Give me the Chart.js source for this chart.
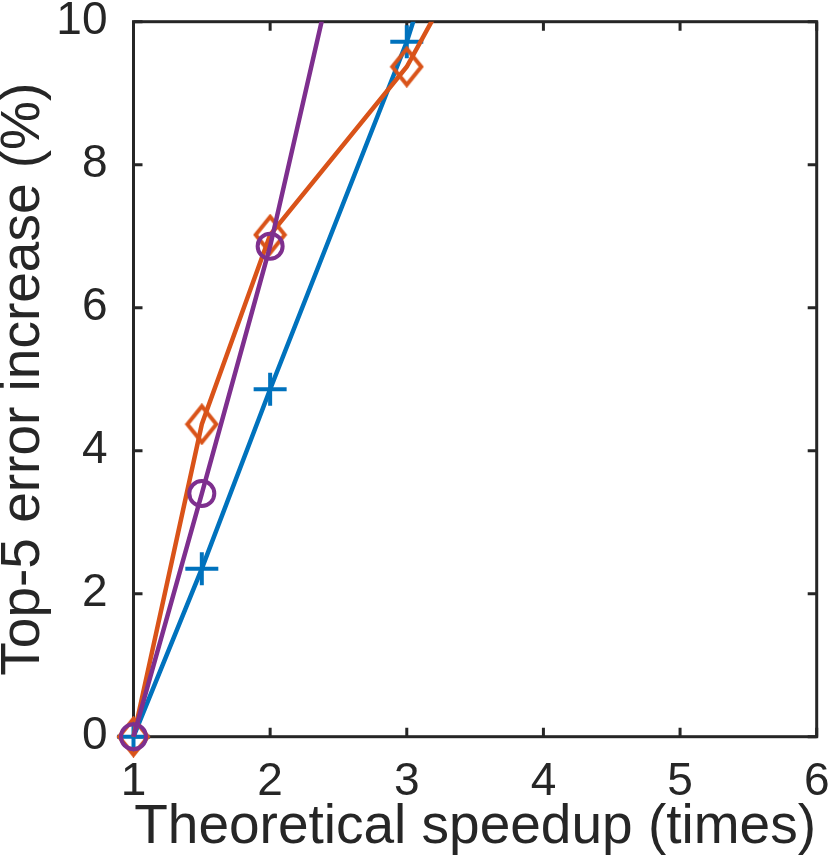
<!DOCTYPE html>
<html>
<head>
<meta charset="utf-8">
<script src="https://cdn.jsdelivr.net/npm/chart.js@4.4.0/dist/chart.umd.min.js"></script>
<style>
  html, body { margin: 0; padding: 0; background: #fff; }
  #wrap { width: 830px; height: 859px; position: relative; }
</style>
</head>
<body>
<div id="wrap"><canvas id="myChart"></canvas></div>
<script>
// speedup (x) and top-5 error increase (y)
const speedBlue = [1, 1.5, 2, 3, 4];
const errBlue = [0, 2.35, 4.86, 9.72, 15.7];

const speedOrange = [1, 1.5, 2, 3, 4];
const errOrange = [0, 4.37, 7.02, 9.37, 12.85];

const speedPurple = [1, 1.5, 2, 3];
const errPurple = [0, 3.40, 6.86, 15.2];

const xTicks = [1, 2, 3, 4, 5, 6];
const yTicks = [0, 2, 4, 6, 8, 10];

const ink = '#262626';

function toPoints(xs, ys) {
    return xs.map((x, i) => ({ x: x, y: ys[i] }));
}

// MATLAB diamonds are a bit taller than wide
function diamondMarker(color) {
    const w = 14.5, h = 18, lw = 4;
    const cv = document.createElement('canvas');
    cv.width = Math.ceil(2 * w + lw + 2);
    cv.height = Math.ceil(2 * h + lw + 2);
    const g = cv.getContext('2d');
    const cx = cv.width / 2, cy = cv.height / 2;
    g.strokeStyle = color;
    g.lineWidth = lw;
    g.lineJoin = 'miter';
    g.beginPath();
    g.moveTo(cx, cy - h);
    g.lineTo(cx + w, cy);
    g.lineTo(cx, cy + h);
    g.lineTo(cx - w, cy);
    g.closePath();
    g.stroke();
    return cv;
}

// MATLAB style box with ticks pointing inwards
const frame = {
    id: 'frame',
    beforeDatasetsDraw(c) {
        const { ctx, chartArea: a, scales } = c;
        const len = 9;
        ctx.save();
        ctx.strokeStyle = ink;
        ctx.lineWidth = 3;
        ctx.beginPath();
        xTicks.forEach(v => {
            const px = scales.x.getPixelForValue(v);
            ctx.moveTo(px, a.bottom); ctx.lineTo(px, a.bottom - len);
            ctx.moveTo(px, a.top); ctx.lineTo(px, a.top + len);
        });
        yTicks.forEach(v => {
            const py = scales.y.getPixelForValue(v);
            ctx.moveTo(a.left, py); ctx.lineTo(a.left + len, py);
            ctx.moveTo(a.right, py); ctx.lineTo(a.right - len, py);
        });
        ctx.stroke();
        ctx.lineJoin = 'miter';
        ctx.strokeRect(a.left, a.top, a.right - a.left, a.bottom - a.top);
        ctx.restore();
    }
};

const clipBox = { left: 30, bottom: 30, top: 0, right: 0 };

const ctx = document.getElementById('myChart').getContext('2d');
new Chart(ctx, {
    type: 'line',
    data: {
        datasets: [
            {
                label: 'blue',
                data: toPoints(speedBlue, errBlue),
                borderColor: '#0072BD',
                borderWidth: 4.5,
                pointStyle: 'cross',
                pointRadius: 16.5,
                pointBorderWidth: 4,
                pointBorderColor: '#0072BD',
                pointBackgroundColor: 'rgba(0,0,0,0)',
                clip: clipBox,
                order: 3
            },
            {
                label: 'orange',
                data: toPoints(speedOrange, errOrange),
                borderColor: '#D95319',
                borderWidth: 4.5,
                pointStyle: diamondMarker('#D95319'),
                pointRadius: 18,
                clip: clipBox,
                order: 2
            },
            {
                label: 'purple',
                data: toPoints(speedPurple, errPurple),
                borderColor: '#7E2F8E',
                borderWidth: 4.5,
                pointStyle: 'circle',
                pointRadius: 12.5,
                pointBorderWidth: 4,
                pointBorderColor: '#7E2F8E',
                pointBackgroundColor: 'rgba(0,0,0,0)',
                clip: clipBox,
                order: 1
            }
        ]
    },
    options: {
        responsive: true,
        maintainAspectRatio: false,
        animation: false,
        devicePixelRatio: 1,
        layout: {
            autoPadding: false,
            padding: { left: 0, top: 21.7, right: 13.3, bottom: 0 }
        },
        plugins: {
            legend: { display: false },
            tooltip: { enabled: false }
        },
        elements: { line: { tension: 0 } },
        scales: {
            x: {
                type: 'linear',
                min: 1,
                max: 6,
                grid: { display: false },
                border: { display: false },
                afterBuildTicks: s => { s.ticks = xTicks.map(v => ({ value: v })); },
                afterFit: s => {
                    s.height = 122.3;
                    s.paddingLeft = 0; s.paddingRight = 0;
                },
                ticks: {
                    color: ink,
                    padding: 10,
                    font: { family: 'Liberation Sans', size: 46 },
                    autoSkip: false,
                    maxRotation: 0
                },
                title: {
                    display: true,
                    text: 'Theoretical speedup (times)',
                    color: ink,
                    font: { family: 'Liberation Sans', size: 55, lineHeight: 1 },
                    padding: { top: 0, bottom: 4 }
                }
            },
            y: {
                type: 'linear',
                min: 0,
                max: 10,
                grid: { display: false },
                border: { display: false },
                afterBuildTicks: s => { s.ticks = yTicks.map(v => ({ value: v })); },
                afterFit: s => {
                    s.width = 133.5;
                    s.paddingTop = 0; s.paddingBottom = 0;
                },
                ticks: {
                    color: ink,
                    padding: 18,
                    font: { family: 'Liberation Sans', size: 46 },
                    autoSkip: false
                },
                title: {
                    display: true,
                    text: 'Top-5 error increase (%)',
                    color: ink,
                    font: { family: 'Liberation Sans', size: 55, lineHeight: 1 },
                    padding: { top: -3.5, bottom: 0 }
                }
            }
        }
    },
    plugins: [frame]
});
</script>
</body>
</html>
